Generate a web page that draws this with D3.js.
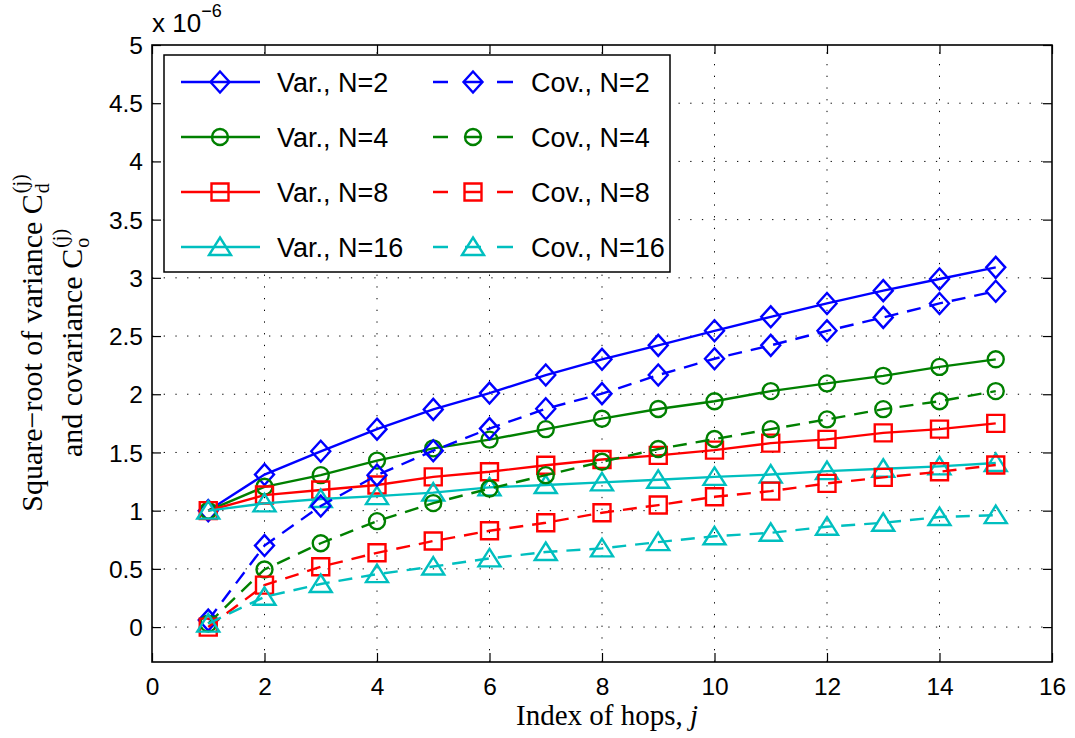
<!DOCTYPE html>
<html>
<head>
<meta charset="utf-8">
<script src="https://cdn.jsdelivr.net/npm/d3@7"></script>
<style>
  html, body { margin: 0; padding: 0; background: #fff; }
  svg { display: block; }
</style>
</head>
<body>
<svg id="chart" width="1075" height="738"></svg>
<script>
// ---------- data ----------
const hops = [1, 2, 3, 4, 5, 6, 7, 8, 9, 10, 11, 12, 13, 14, 15];
const varN2  = [1.00, 1.31, 1.51, 1.70, 1.87, 2.01, 2.165, 2.30, 2.42, 2.545, 2.665, 2.78, 2.89, 2.99, 3.09];
const covN2  = [0.06, 0.70, 1.04, 1.305, 1.515, 1.705, 1.875, 2.005, 2.165, 2.305, 2.42, 2.545, 2.66, 2.78, 2.885];
const varN4  = [1.00, 1.205, 1.305, 1.43, 1.535, 1.61, 1.70, 1.79, 1.873, 1.94, 2.027, 2.093, 2.158, 2.235, 2.30];
const covN4  = [0.03, 0.495, 0.72, 0.91, 1.065, 1.19, 1.305, 1.42, 1.53, 1.615, 1.70, 1.784, 1.872, 1.94, 2.027];
const varN8  = [1.00, 1.134, 1.177, 1.22, 1.29, 1.334, 1.39, 1.44, 1.475, 1.52, 1.58, 1.612, 1.668, 1.70, 1.75];
const covN8  = [0.00, 0.36, 0.518, 0.638, 0.739, 0.827, 0.896, 0.982, 1.048, 1.119, 1.168, 1.234, 1.286, 1.334, 1.392];
const varN16 = [1.00, 1.063, 1.10, 1.125, 1.155, 1.20, 1.22, 1.243, 1.265, 1.29, 1.31, 1.34, 1.36, 1.38, 1.41];
const covN16 = [0.03, 0.26, 0.37, 0.455, 0.52, 0.59, 0.645, 0.676, 0.73, 0.78, 0.81, 0.862, 0.896, 0.945, 0.962];

const seriesNames = ["Var., N=2", "Var., N=4", "Var., N=8", "Var., N=16",
                     "Cov., N=2", "Cov., N=4", "Cov., N=8", "Cov., N=16"];
const seriesValues = [varN2, varN4, varN8, varN16, covN2, covN4, covN8, covN16];
const seriesColors = ["#0000ff", "#008000", "#ff0000", "#00bfbf",
                      "#0000ff", "#008000", "#ff0000", "#00bfbf"];
const seriesMarkers = ["diamond", "circle", "square", "triangle",
                       "diamond", "circle", "square", "triangle"];
const seriesDashed = [false, false, false, false, true, true, true, true];

const xTicks = [0, 2, 4, 6, 8, 10, 12, 14, 16];
const yTicks = [0, 0.5, 1, 1.5, 2, 2.5, 3, 3.5, 4, 4.5, 5];
const xDomain = [0, 16];
const yDomain = [-0.3, 5];

// ---------- layout ----------
const L = 152, R = 1052, T = 45, B = 662;
const SANS = "'Liberation Sans', Arial, Helvetica, sans-serif";
const SERIF = "'Liberation Serif', 'Times New Roman', Times, serif";
const LW = 2.4;

const svg = d3.select("#chart");
const x = d3.scaleLinear().domain(xDomain).range([L, R]);
const y = d3.scaleLinear().domain(yDomain).range([B, T]);

// ---------- grid ----------
const grid = svg.append("g").attr("stroke", "#000").attr("stroke-width", 1)
  .attr("stroke-dasharray", "1.3,10.4");
grid.selectAll("line.gx").data(xTicks.filter(d => d > xDomain[0] && d < xDomain[1]))
  .join("line").attr("class", "gx")
  .attr("x1", d => x(d)).attr("x2", d => x(d)).attr("y1", B).attr("y2", T);
grid.selectAll("line.gy").data(yTicks.filter(d => d > yDomain[0] && d < yDomain[1]))
  .join("line").attr("class", "gy")
  .attr("y1", d => y(d)).attr("y2", d => y(d)).attr("x1", L).attr("x2", R);

// ---------- markers ----------
function markerPath(type) {
  switch (type) {
    case "diamond": return "M0,-10.5L9.5,0L0,10.5L-9.5,0Z";
    case "circle": return d3.arc()({innerRadius: 0, outerRadius: 8, startAngle: 0, endAngle: 2 * Math.PI});
    case "square": return "M-8.5,-8.5H8.5V8.5H-8.5Z";
    case "triangle": return "M0,-9.5L11,8L-11,8Z";
  }
}

// ---------- series ----------
const line = d3.line().x((d, i) => x(hops[i])).y(d => y(d));
const plot = svg.append("g");
seriesValues.forEach((vals, s) => {
  const g = plot.append("g");
  g.append("path").datum(vals)
    .attr("d", line)
    .attr("fill", "none")
    .attr("stroke", seriesColors[s])
    .attr("stroke-width", LW)
    .attr("stroke-dasharray", seriesDashed[s] ? "14,9" : null);
  g.selectAll("path.m").data(vals).join("path").attr("class", "m")
    .attr("d", markerPath(seriesMarkers[s]))
    .attr("transform", (d, i) => `translate(${x(hops[i])},${y(d)})`)
    .attr("fill", "none")
    .attr("stroke", seriesColors[s])
    .attr("stroke-width", LW);
});

// ---------- axes ----------
function styleAxis(g) {
  g.select(".domain").remove();
  g.selectAll(".tick line").attr("stroke", "#000").attr("stroke-width", 1.2);
}
const xAxisB = svg.append("g").attr("transform", `translate(0,${B})`)
  .call(d3.axisBottom(x).tickValues(xTicks).tickSize(-9).tickFormat(d3.format("d")));
styleAxis(xAxisB);
xAxisB.selectAll(".tick text").attr("y", 33).attr("dy", 0)
  .attr("font-family", SANS).attr("font-size", 24.5).attr("fill", "#000");

const yAxisL = svg.append("g").attr("transform", `translate(${L},0)`)
  .call(d3.axisLeft(y).tickValues(yTicks).tickSize(-9).tickFormat(d3.format("~g")));
styleAxis(yAxisL);
yAxisL.selectAll(".tick text").attr("x", -9).attr("dy", "0.35em")
  .attr("font-family", SANS).attr("font-size", 24.5).attr("fill", "#000");

const xAxisT = svg.append("g").attr("transform", `translate(0,${T})`)
  .call(d3.axisTop(x).tickValues(xTicks).tickSize(-9).tickFormat(""));
styleAxis(xAxisT);
const yAxisR = svg.append("g").attr("transform", `translate(${R},0)`)
  .call(d3.axisRight(y).tickValues(yTicks).tickSize(-9).tickFormat(""));
styleAxis(yAxisR);

svg.append("rect").attr("x", L).attr("y", T).attr("width", R - L).attr("height", B - T)
  .attr("fill", "none").attr("stroke", "#000").attr("stroke-width", 1.6);

// ---------- exponent ----------
const expo = svg.append("text").attr("x", 152).attr("y", 32)
  .attr("font-family", SANS).attr("font-size", 26).attr("fill", "#000");
expo.append("tspan").text("x 10");
expo.append("tspan").attr("dy", -15).attr("font-size", 18).text("\u22126");

// ---------- axis labels ----------
const xl = svg.append("text").attr("x", 607).attr("y", 725).attr("text-anchor", "middle")
  .attr("font-family", SERIF).attr("font-size", 29).attr("fill", "#000");
xl.append("tspan").text("Index of hops, ");
xl.append("tspan").attr("font-style", "italic").text("j");

function yLabelLine(xBase, mainStr, subStr, supStr) {
  const outer = svg.append("g").attr("transform", `translate(${xBase},343) rotate(-90)`);
  const g = outer.append("g");
  const main = g.append("text").attr("x", 0).attr("y", 0)
    .attr("font-family", SERIF).attr("font-size", 30).attr("fill", "#000").text(mainStr);
  const w = main.node().getComputedTextLength();
  const sub = g.append("text").attr("x", w + 1).attr("y", 7)
    .attr("font-family", SERIF).attr("font-size", 20).attr("fill", "#000").text(subStr);
  const sup = g.append("text").attr("x", w + 1).attr("y", -15)
    .attr("font-family", SERIF).attr("font-size", 20).attr("fill", "#000").text(supStr);
  const tw = w + 1 + Math.max(sub.node().getComputedTextLength(), sup.node().getComputedTextLength());
  g.attr("transform", `translate(${-tw / 2},0)`);
}
yLabelLine(42, "Square\u2212root of variance C", "d", "(j)");
yLabelLine(82, "and covariance C", "o", "(j)");

// ---------- legend ----------
const lg = svg.append("g");
lg.append("rect").attr("x", 164).attr("y", 55).attr("width", 506).attr("height", 217)
  .attr("fill", "#fff").attr("stroke", "#000").attr("stroke-width", 1.5);
const rowY = [82, 137, 192, 247];
const legendOrder = [[0, 4], [1, 5], [2, 6], [3, 7]];
legendOrder.forEach((pair, r) => {
  const yy = rowY[r];
  pair.forEach((s, c) => {
    const x1 = c === 0 ? 181 : 433;
    const x2 = c === 0 ? 260 : 513;
    const mx = c === 0 ? 220 : 473;
    const tx = c === 0 ? 277 : 531;
    lg.append("line").attr("x1", x1).attr("x2", x2).attr("y1", yy).attr("y2", yy)
      .attr("stroke", seriesColors[s]).attr("stroke-width", LW)
      .attr("stroke-dasharray", seriesDashed[s] ? "15,17,16,16,16,100" : null);
    lg.append("path").attr("d", markerPath(seriesMarkers[s]))
      .attr("transform", `translate(${mx},${yy})`)
      .attr("fill", "none").attr("stroke", seriesColors[s]).attr("stroke-width", LW);
    lg.append("text").attr("x", tx).attr("y", yy + 10)
      .attr("font-family", SANS).attr("font-size", 27).attr("fill", "#000")
      .text(seriesNames[s]);
  });
});
</script>
</body>
</html>
